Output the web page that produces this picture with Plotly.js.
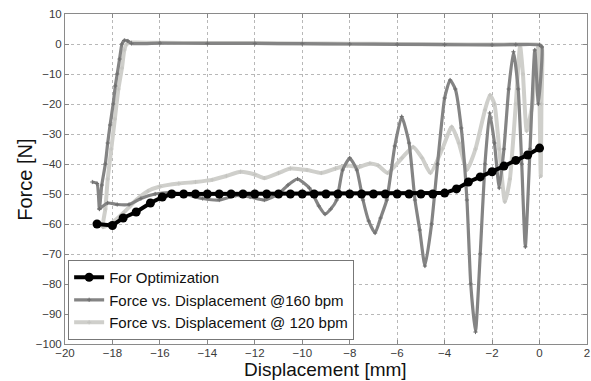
<!DOCTYPE html>
<html>
<head>
<meta charset="utf-8">
<script src="https://cdn.plot.ly/plotly-3.0.1.min.js"></script>
<style>html,body{margin:0;padding:0;background:#fff;}#chart{width:591px;height:381px;}</style>
</head>
<body>
<div id="chart"></div>
<script>
// For Optimization (black, circles)
const optX = [-18.65, -18.0, -17.55, -17.0, -16.4, -15.9, -15.5, -15.0, -14.5, -14.0, -13.5, -13.0, -12.5, -12.0, -11.5, -11.0, -10.5, -10.0, -9.5, -9.0, -8.5, -8.0, -7.5, -7.0, -6.5, -6.0, -5.5, -5.0, -4.5, -4.0, -3.5, -3.0, -2.5, -2.0, -1.5, -1.0, -0.5, 0.0];
const optY = [-60, -60.5, -58, -56, -53, -51, -50, -50, -50, -50, -50, -50, -50, -50, -50, -50, -50, -50, -50, -50, -50, -50, -50, -50, -50, -50, -50, -50, -50, -49.7, -48.3, -46, -44.3, -42.6, -40.7, -38.8, -37, -34.7];

// Force vs. Displacement @160 bpm (dark grey)
const bpm160X = [-18.85, -18.65, -18.55, -18.45, -18.3, -18.2, -18.1, -17.97, -17.88, -17.8, -17.7, -17.6, -17.5, -17.35, -17.2,
  -16.0, -14.0, -12.0, -10.0, -8.0, -6.0, -4.0, -2.0, -1.0, 0.0, 0.1,
  -0.05, -0.2, -0.4, -0.6, -0.75, -0.9, -1.1, -1.3, -1.5, -1.7, -1.9, -2.1, -2.3, -2.5, -2.7, -2.9, -3.06, -3.3, -3.55, -3.77,
  -4.0, -4.3, -4.55, -4.83, -5.05, -5.25, -5.5, -5.81, -6.1, -6.44, -6.7, -6.93, -7.2, -7.44, -7.7, -8.0, -8.3, -8.55, -8.8, -9.04,
  -9.3, -9.7, -10.2, -10.6, -11.0, -11.6, -12.2, -12.8, -13.5, -14.2, -15.0, -15.6, -16.2, -16.8, -17.3, -17.8, -18.2, -18.55];
const bpm160Y = [-46, -46.5, -55, -47, -40, -33, -27, -20, -14, -10, -5, 0, 1.2, 1.0, 0.2,
  0.3, 0.2, 0.2, 0.1, 0.0, -0.1, -0.2, -0.3, -0.2, -0.3, -1,
  -20, -2, -35, -67.6, -40, -15, -2.6, -15, -35, -48, -33, -23, -40, -70, -96, -80, -52, -28, -15, -12,
  -18, -40, -60, -74, -62, -52, -33, -24.2, -34, -52, -58, -63, -59, -52, -42, -38, -42, -52, -55, -56.7,
  -54, -48, -45, -47, -50, -52, -51, -50.5, -52, -51.5, -50, -49.5, -50, -51.5, -53.5, -53.5, -53, -55];

// Force vs. Displacement @ 120 bpm (light grey)
const bpm120X = [-18.4, -18.3, -18.2, -18.05, -17.9, -17.75, -17.6, -17.5, -17.4, -17.2,
  -16.0, -14.0, -12.0, -10.0, -8.0, -6.0, -4.0, -2.0, 0.0, 0.1,
  0.08, 0.05, -0.06, -0.3, -0.54, -0.7, -0.82, -1.0, -1.25, -1.46, -1.7, -1.9, -2.09, -2.3, -2.7, -3.06, -3.4, -3.7,
  -4.1, -4.6, -4.95, -5.33, -5.8, -6.4, -6.8, -7.15, -7.6, -8.1, -8.6, -9.2, -9.8, -10.5, -11.0, -11.6, -12.0, -12.6,
  -13.2, -13.8, -14.5, -15.2, -16.0, -16.5, -17.0, -17.5, -18.0, -18.4];
const bpm120Y = [-61, -55, -45, -35, -25, -15, -8, -2, 0, 0.5,
  0.4, 0.3, 0.3, 0.2, 0.1, 0.0, -0.1, -0.2, -0.2, -1,
  -20, -44, -1, -20, -29, -10, -0.5, -20, -45, -52.6, -35, -20, -17, -22, -35, -42, -33, -27.6,
  -35, -43, -38, -34.3, -38, -43, -40.5, -39.8, -41, -40.5, -41.5, -43, -42, -41.5, -43, -44.7, -43.5, -42.6,
  -44, -45.3, -46, -46.5, -47.5, -49, -52, -56, -59.5, -61];

const FONT = 'Liberation Sans, Arial, sans-serif';
const tickFont = {family: FONT, size: 11.5, color: '#3a3a3a'};

const traces = [
  {x: bpm120X, y: bpm120Y, name: 'Force vs. Displacement @ 120 bpm', type: 'scatter', mode: 'lines+markers',
   line: {color: '#cfcfcb', width: 4, shape: 'spline', smoothing: 0.5}, marker: {color: '#c4c4c0', size: 3, symbol: 'cross-thin', line: {color: '#c4c4c0', width: 1}}, legendrank: 3},
  {x: bpm160X, y: bpm160Y, name: 'Force vs. Displacement @160 bpm', type: 'scatter', mode: 'lines+markers',
   line: {color: '#848484', width: 3.2, shape: 'spline', smoothing: 0.5}, marker: {color: '#6e6e6e', size: 3, symbol: 'cross-thin', line: {color: '#6e6e6e', width: 1}}, legendrank: 2},
  {x: optX, y: optY, name: 'For Optimization', type: 'scatter', mode: 'lines+markers',
   line: {color: '#000', width: 4}, marker: {color: '#000', size: 9, symbol: 'circle'}, legendrank: 1}
];

const layout = {
  width: 591, height: 381,
  margin: {l: 65, r: 4, t: 14, b: 37},
  paper_bgcolor: '#fff', plot_bgcolor: '#fff',
  font: {family: FONT, color: '#222'},
  showlegend: true,
  legend: {x: 0.006, y: 0.012, xanchor: 'left', yanchor: 'bottom', bgcolor: '#fff', bordercolor: '#777', borderwidth: 1,
    font: {family: FONT, size: 15, color: '#111'}, tracegroupgap: 0, traceorder: 'normal'},
  xaxis: {range: [-20, 2], dtick: 2, tick0: 0, ticks: 'inside', ticklen: 4, tickcolor: '#888', mirror: 'ticks', showline: true, linecolor: '#8a8a8a', linewidth: 1,
    showgrid: true, gridcolor: '#b8b8b8', griddash: 'dot', gridwidth: 1, zeroline: false, tickfont: tickFont, ticklabelstandoff: -2, automargin: false},
  yaxis: {range: [-100, 10], dtick: 10, tick0: 0, ticks: 'inside', ticklen: 4, tickcolor: '#888', mirror: 'ticks', showline: true, linecolor: '#8a8a8a', linewidth: 1,
    showgrid: true, gridcolor: '#b8b8b8', griddash: 'dot', gridwidth: 1, zeroline: false, tickfont: tickFont, automargin: false},
  annotations: [
    {text: 'Displacement [mm]', xref: 'paper', yref: 'paper', x: 0.499, y: -0.1115, xanchor: 'center', yanchor: 'bottom', showarrow: false, borderpad: 0,
     font: {family: FONT, size: 19, color: '#111'}},
    {text: 'Force [N]', xref: 'paper', yref: 'paper', x: -0.077, y: 0.497, xanchor: 'center', yanchor: 'middle', textangle: -90, showarrow: false,
     font: {family: FONT, size: 20, color: '#111'}}
  ]
};

Plotly.newPlot('chart', traces, layout, {displayModeBar: false, staticPlot: true});
</script>
</body>
</html>
